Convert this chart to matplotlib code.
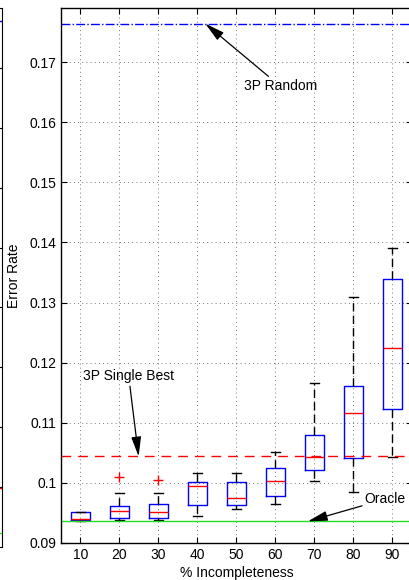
import matplotlib
matplotlib.use("Agg")
import matplotlib.pyplot as plt
from matplotlib.ticker import FuncFormatter

plt.rcParams['font.family'] = ['Liberation Sans', 'DejaVu Sans']
plt.rcParams['font.size'] = 10

# % incompleteness levels
incompleteness = [10, 20, 30, 40, 50, 60, 70, 80, 90]

# box statistics of the error rate per level
whisker_low = [0.0936, 0.0938, 0.0938, 0.0945, 0.0957, 0.0965, 0.1003, 0.0985, 0.1043]
q1 = [0.0938, 0.0942, 0.0941, 0.0964, 0.0964, 0.0979, 0.1021, 0.1041, 0.1123]
median = [0.0940, 0.0954, 0.0952, 0.0995, 0.0975, 0.1003, 0.1043, 0.1116, 0.1224]
q3 = [0.0951, 0.0962, 0.0965, 0.1002, 0.1001, 0.1024, 0.1079, 0.1162, 0.1339]
whisker_high = [0.0952, 0.0984, 0.0983, 0.1017, 0.1016, 0.1051, 0.1167, 0.1310, 0.1390]
outliers = [[], [0.1010], [0.1005], [], [], [], [], [], []]

# reference error rates
random_3p = 0.1764
single_best_3p = 0.1044
oracle = 0.0936

# neighbouring panel (only its right edge shows)
nb_random = 0.1778
nb_single_best = 0.0998
nb_oracle = 0.0923

fig = plt.figure(figsize=(4.1, 5.8), dpi=100)

# right edge of the neighbouring panel, drawn first so it stays behind
nb = fig.add_axes([-0.5, 33 / 580, 0.5 + 1.5 / 410, 539 / 580])
nb.patch.set_visible(False)
nb.set_ylim(0.09, 0.18)
nb.set_xlim(0, 1)
nb.axhline(nb_random, color='blue', ls='-.', lw=1.0)
nb.axhline(nb_single_best, color='red', ls='--', lw=1.0)
nb.axhline(nb_oracle, color='#22dd22', lw=1.0)
nb.set_yticks([0.09 + 0.01 * k for k in range(10)])
nb.tick_params(direction='in', left=False, right=True, labelleft=False,
               bottom=False, labelbottom=False, length=3)
for s in ['left', 'top', 'bottom']:
    nb.spines[s].set_visible(False)

ax = fig.add_axes([61 / 410, 37 / 580, 351 / 410, 535 / 580])

stats = []
for i in range(len(incompleteness)):
    stats.append(dict(whislo=whisker_low[i], q1=q1[i], med=median[i],
                      q3=q3[i], whishi=whisker_high[i], fliers=outliers[i]))

ax.bxp(stats, positions=range(1, len(incompleteness) + 1), widths=0.5,
       boxprops=dict(color='blue', lw=1.0),
       medianprops=dict(color='red', lw=1.0),
       whiskerprops=dict(color='black', lw=1.0, ls=(0, (6, 3))),
       capprops=dict(color='black', lw=1.0),
       flierprops=dict(marker='+', markeredgecolor='red', markersize=7, lw=0))

ax.axhline(random_3p, color='blue', ls='-.', lw=1.0)
ax.axhline(single_best_3p, color='red', ls=(0, (7, 5)), lw=1.0)
ax.axhline(oracle, color='#22dd22', ls='-', lw=1.0)

arrow = dict(arrowstyle='-|>,head_length=1.2,head_width=0.3', color='black',
             lw=0.9, shrinkA=0, shrinkB=0)
ax.annotate('3P Random', xy=(4.2, random_3p), xytext=(5.18, 0.1660),
            ha='left', va='center', arrowprops=arrow)
ax.annotate('3P Single Best', xy=(2.49, single_best_3p), xytext=(1.07, 0.1177),
            ha='left', va='center', arrowprops=arrow)
ax.annotate('Oracle', xy=(6.83, oracle), xytext=(8.29, 0.0973),
            ha='left', va='center', arrowprops=arrow)

ax.set_xlim(0.5, 9.5)
ax.set_ylim(0.09, 0.179)
ax.set_xticks(range(1, len(incompleteness) + 1))
ax.set_xticklabels([str(v) for v in incompleteness])
ax.set_yticks([0.09 + 0.01 * k for k in range(9)])
ax.yaxis.set_major_formatter(FuncFormatter(lambda v, p: '%g' % round(v, 3)))
ax.tick_params(direction='in', top=True, right=True, length=4, width=0.8)
ax.grid(True, color='black', ls=(0, (1, 4)), lw=0.6, alpha=0.7)
for s in ax.spines.values():
    s.set_linewidth(1.0)

ax.set_xlabel('% Incompleteness', labelpad=3)
ax.set_ylabel('Error Rate', labelpad=6)

fig.savefig('out.png', dpi=100)
